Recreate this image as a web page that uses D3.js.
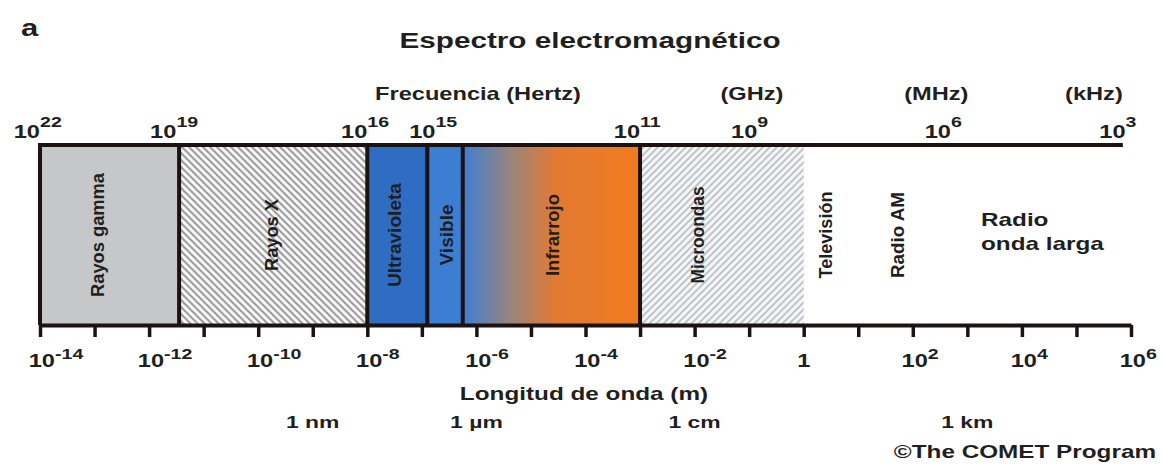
<!DOCTYPE html>
<html>
<head>
<meta charset="utf-8">
<script src="https://cdn.jsdelivr.net/npm/d3@7"></script>
<style>
  body { margin: 0; background: #fff; }
  svg { display: block; font-family: "Liberation Sans", Arial, sans-serif; font-weight: bold; }
  text { fill: #1f1f1f; }
</style>
</head>
<body>
<svg id="chart"></svg>
<script>
// wavelength axis, exponents of 10 (metres)
const tickExps = [-14, -13, -12, -11, -10, -9, -8, -7, -6, -5, -4, -3, -2, -1, 0, 1, 2, 3, 4, 5, 6];
const labelExps = [-14, -12, -10, -8, -6, -4, -2, 0, 2, 4, 6];

// spectrum regions, bounded by log10 of wavelength
const bandNames = ['Rayos gamma', 'Rayos X', 'Ultravioleta', 'Visible', 'Infrarrojo', 'Microondas'];
const bandFrom = [-14, -11.45, -8, -6.9, -6.25, -3];
const bandTo = [-11.45, -8, -6.9, -6.25, -3, 0];
const bandLabelAt = [-12.95, -9.75, -7.5, -6.55, -4.6, -1.95];

// radio part has no box, only labels
const radioNames = ['Televisión', 'Radio AM'];
const radioAt = [0.4, 1.72];
const longWaveLines = ['Radio', 'onda larga'];
const longWaveAt = 3.25;

// frequency marks along the top (label exponent, where it sits in log10 wavelength)
const freqExps = [22, 19, 16, 15, 11, 9, 6, 3];
const freqAt = [-14, -11.5, -8, -6.75, -3, -0.85, 2.7, 5.9];
const freqUnits = ['Frecuencia (Hertz)', '(GHz)', '(MHz)', '(kHz)'];
const freqUnitAt = [-5.97, -0.95, 2.43, 5.32];

// reference lengths under the axis
const refNames = ['1 nm', '1 µm', '1 cm', '1 km'];
const refExps = [-9, -6, -2, 3];

// styling
const fills = {
  'Rayos gamma': '#c5c7c9',
  'Rayos X': 'url(#hatchX)',
  'Ultravioleta': '#2f6dc3',
  'Visible': '#3c7fd2',
  'Infrarrojo': 'url(#irGrad)',
  'Microondas': 'url(#hatchMW)'
};
const labelLen = {
  'Rayos gamma': 124, 'Rayos X': 72, 'Ultravioleta': 104, 'Visible': 61,
  'Infrarrojo': 82, 'Microondas': 97, 'Televisión': 87, 'Radio AM': 86
};

const width = 1163, height = 469;
const yTop = 145, yBottom = 325;
const SX = 1.35; // the lettering in the figure is stretched sideways
const lineCol = '#1c1212';

const svg = d3.select('#chart').attr('width', width).attr('height', height);
const x = d3.scaleLog().domain([1e-14, 1e6]).range([40, 1131]);
const xe = e => x(Math.pow(10, e));

// stretched horizontal text helper
function stext(parent, px, py, str, size, anchor) {
  const g = parent.append('g').attr('transform', `translate(${px},${py}) scale(${SX},1)`);
  return g.append('text')
    .attr('text-anchor', anchor || 'start')
    .style('font-size', size + 'px')
    .text(str);
}

// defs: hatching and infrared gradient
const defs = svg.append('defs');
const hx = defs.append('pattern').attr('id', 'hatchX')
  .attr('patternUnits', 'userSpaceOnUse').attr('width', 7).attr('height', 7);
hx.append('rect').attr('width', 7).attr('height', 7).attr('fill', '#f6f6f6');
hx.append('path').attr('d', 'M-1,-1L8,8M-1,6L1,8M6,-1L8,1')
  .attr('stroke', '#9e9e9e').attr('stroke-width', 2);

const hm = defs.append('pattern').attr('id', 'hatchMW')
  .attr('patternUnits', 'userSpaceOnUse').attr('width', 7).attr('height', 7);
hm.append('rect').attr('width', 7).attr('height', 7).attr('fill', '#f3f5f7');
hm.append('path').attr('d', 'M-1,8L8,-1M-1,1L1,-1M6,8L8,6')
  .attr('stroke', '#bcc1c6').attr('stroke-width', 1.8);

const grad = defs.append('linearGradient').attr('id', 'irGrad');
[['0%', '#3f7fd4'], ['28%', '#9a8579'], ['52%', '#e27a34'], ['100%', '#f27a1d']]
  .forEach(s => grad.append('stop').attr('offset', s[0]).attr('stop-color', s[1]));

// bands
svg.append('g').selectAll('rect')
  .data(bandNames)
  .join('rect')
    .attr('x', (d, i) => xe(bandFrom[i]))
    .attr('y', yTop)
    .attr('width', (d, i) => xe(bandTo[i]) - xe(bandFrom[i]))
    .attr('height', yBottom - yTop)
    .attr('fill', d => fills[d]);

// borders between bands (microwaves have no right edge)
svg.append('g').selectAll('line')
  .data(bandFrom)
  .join('line')
    .attr('x1', d => xe(d)).attr('x2', d => xe(d))
    .attr('y1', yTop).attr('y2', yBottom)
    .attr('stroke', lineCol).attr('stroke-width', 4);

// top rule
svg.append('line')
  .attr('x1', xe(-14) - 2).attr('x2', xe(5.85))
  .attr('y1', yTop).attr('y2', yTop)
  .attr('stroke', lineCol).attr('stroke-width', 4);

// bottom wavelength axis
const axis = d3.axisBottom(x)
  .tickValues(tickExps.map(e => Math.pow(10, e)))
  .tickSize(12)
  .tickSizeOuter(0)
  .tickFormat(() => '');
const axisG = svg.append('g')
  .attr('transform', `translate(0,${yBottom})`)
  .call(axis);
axisG.select('.domain').attr('stroke', lineCol).attr('stroke-width', 4);
axisG.selectAll('.tick line').attr('stroke', lineCol).attr('stroke-width', 3.5);
axisG.selectAll('.tick text').remove();

labelExps.forEach(e => {
  const px = xe(e);
  if (e === 0) {
    stext(svg, px, yBottom + 42, '1', 17.5, 'middle');
  } else {
    stext(svg, px + 15, yBottom + 42, '10', 17.5, 'end');
    stext(svg, px + 15, yBottom + 34, String(e), 14.5, 'start');
  }
});

// top frequency labels
freqExps.forEach((f, i) => {
  const px = xe(freqAt[i]);
  stext(svg, px, 138, '10', 17.5, 'end');
  stext(svg, px, 127, String(f), 14.5, 'start');
});
freqUnits.forEach((u, i) => stext(svg, xe(freqUnitAt[i]), 100, u, 17.5, 'middle'));

// vertical band labels
const vLabels = bandNames.map((d, i) => ({ name: d, at: bandLabelAt[i] }))
  .concat(radioNames.map((d, i) => ({ name: d, at: radioAt[i] })));
const midY = (yTop + yBottom) / 2;
svg.append('g').selectAll('text')
  .data(vLabels)
  .join('text')
    .attr('transform', d => `translate(${xe(d.at)},${midY}) rotate(-90)`)
    .attr('text-anchor', 'middle')
    .attr('dy', '0.35em')
    .attr('textLength', d => labelLen[d.name])
    .attr('lengthAdjust', 'spacingAndGlyphs')
    .style('font-size', '18px')
    .text(d => d.name);

longWaveLines.forEach((l, i) => stext(svg, xe(longWaveAt), 226 + i * 24, l, 18, 'start'));

// titles and notes
stext(svg, 21, 36, 'a', 23, 'start');
stext(svg, 590, 48, 'Espectro electromagnético', 22, 'middle');
stext(svg, 584, 400, 'Longitud de onda (m)', 18, 'middle');
refNames.forEach((r, i) => stext(svg, xe(refExps[i]), 428, r, 17, 'middle'));
stext(svg, 1156, 458, '©The COMET Program', 18, 'end');
</script>
</body>
</html>
